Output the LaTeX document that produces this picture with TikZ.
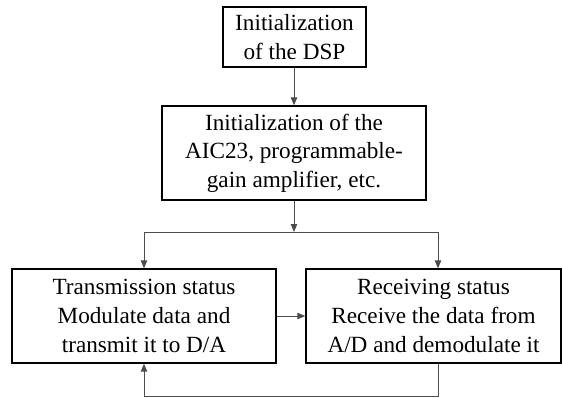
\documentclass[tikz,border=0pt]{standalone}
\usepackage{fontspec}
\setmainfont{Liberation Serif}
\usetikzlibrary{arrows.meta,positioning,calc}

\begin{document}
\begin{tikzpicture}[x=0.5pt,y=-0.5pt,>={Triangle[length=4pt,width=3.2pt]},
  font=\fontsize{11.6}{14.3}\selectfont,
  stepbox/.style={draw=black,line width=0.65pt,align=center,inner sep=0pt},
  link/.style={draw=black!70,line width=0.5pt}]
\useasboundingbox (0,0) rectangle (562,397);
\node[stepbox,minimum width=71.5pt,minimum height=30pt] (dsp) at (294.5,37)
  {Initialization\\of the DSP};
\node[stepbox,minimum width=132pt,minimum height=47pt] (aic) at (294,153)
  {Initialization of the\\AIC23, programmable-\\gain amplifier, etc.};
\node[stepbox,minimum width=132pt,minimum height=47pt] (tx) at (144,316)
  {Transmission status\\Modulate data and\\transmit it to D/A};
\node[stepbox,minimum width=127.5pt,minimum height=47pt] (rx) at (433.5,316)
  {Receiving status\\Receive the data from\\A/D and demodulate it};
\coordinate (jc) at (294,232);
\coordinate (jl) at (144,232);
\coordinate (jr) at (438,232);
\coordinate (lb) at (438,396);
% connectors
\draw[link,->] (dsp.south -| jc) -- (aic.north -| jc);
\draw[link,->] (aic.south -| jc) -- (jc);
\draw[link] (jl) -- (jr);
\draw[link,->] (jl) -- (tx.north);
\draw[link,->] (jr) -- (jr |- rx.north);
\draw[link,->] (tx.east) -- (rx.west);
\draw[link,->] (rx.south -| lb) -- (lb) -| (tx.south);
\end{tikzpicture}
\end{document}
